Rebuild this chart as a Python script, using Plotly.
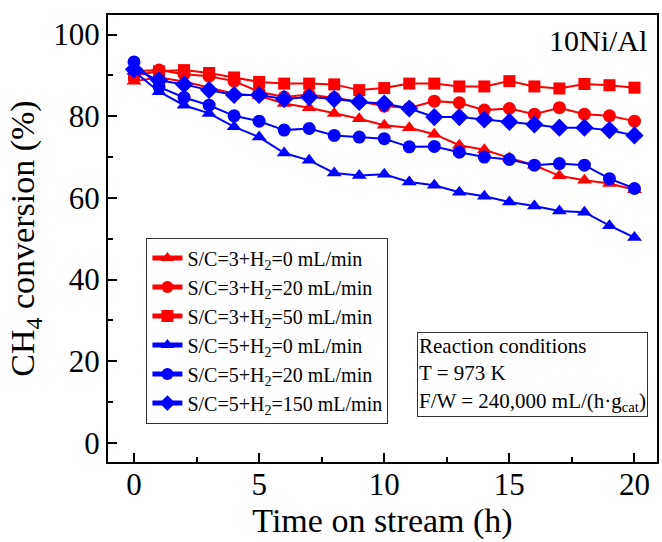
import plotly.graph_objects as go

time_h = list(range(21))

sc3_h0 = [88.6, 89.5, 88.5, 87.0, 85.5, 85.0, 83.1, 82.1, 80.7, 79.4, 77.8, 77.2, 75.6, 72.9, 71.8, 69.8, 68.0, 65.4, 64.3, 63.5, 62.0]
sc3_h20 = [91.0, 91.3, 90.3, 89.8, 88.6, 86.0, 84.7, 85.3, 84.5, 83.6, 82.5, 82.0, 83.7, 83.3, 81.5, 81.9, 80.5, 82.1, 80.5, 80.1, 78.8]
sc3_h50 = [90.0, 91.0, 91.3, 90.6, 89.5, 88.4, 88.0, 88.0, 87.8, 86.4, 86.9, 88.0, 88.0, 87.3, 87.3, 88.6, 87.3, 86.8, 87.9, 87.6, 87.0]
sc5_h0 = [91.0, 86.0, 82.7, 80.7, 77.4, 74.9, 71.0, 69.2, 66.1, 65.5, 65.8, 63.9, 63.1, 61.4, 60.4, 59.0, 58.0, 56.8, 56.5, 53.2, 50.3]
sc5_h20 = [93.3, 87.2, 84.6, 82.7, 80.1, 78.8, 76.6, 77.0, 75.3, 74.9, 74.5, 72.5, 72.6, 71.2, 70.0, 69.4, 68.0, 68.4, 68.0, 64.7, 62.3]
sc5_h150 = [91.5, 88.8, 87.8, 86.4, 85.2, 85.2, 84.2, 84.7, 84.2, 83.5, 83.1, 81.9, 79.8, 79.8, 79.2, 78.6, 78.0, 77.2, 77.2, 76.6, 75.3]

series_names = [
    "S/C=3+H<sub>2</sub>=0 mL/min",
    "S/C=3+H<sub>2</sub>=20 mL/min",
    "S/C=3+H<sub>2</sub>=50 mL/min",
    "S/C=5+H<sub>2</sub>=0 mL/min",
    "S/C=5+H<sub>2</sub>=20 mL/min",
    "S/C=5+H<sub>2</sub>=150 mL/min",
]
series_values = [sc3_h0, sc3_h20, sc3_h50, sc5_h0, sc5_h20, sc5_h150]
series_colors = ["#ff0000", "#ff0000", "#ff0000", "#0000ff", "#0000ff", "#0000ff"]
series_symbols = ["triangle-up", "circle", "square", "triangle-up", "circle", "diamond"]
series_sizes = [13, 13, 12, 13, 13, 14]

FONT = "Liberation Serif, Times New Roman, serif"

fig = go.Figure()
for name, vals, col, sym, sz in zip(series_names, series_values, series_colors, series_symbols, series_sizes):
    fig.add_trace(go.Scatter(
        x=time_h, y=vals, name=name, mode="lines+markers",
        line=dict(color=col, width=2),
        marker=dict(symbol=sym, size=sz, color=col, line=dict(width=0)),
    ))

fig.update_layout(
    width=662, height=542,
    margin=dict(l=108, r=3, t=15, b=80),
    paper_bgcolor="white", plot_bgcolor="white",
    font=dict(family=FONT, color="black", size=26),
    showlegend=True,
    legend=dict(
        x=0.07, y=0.294, xanchor="left", yanchor="middle",
        bgcolor="white", bordercolor="#333333", borderwidth=1,
        font=dict(family=FONT, size=20, color="black"),
        tracegroupgap=0, itemsizing="constant",
    ),
    xaxis=dict(
        range=[-1.04, 20.9], tickvals=[0, 5, 10, 15, 20],
        ticks="inside", ticklen=9, tickwidth=2, tickcolor="black",
        minor=dict(tickvals=[2.5, 7.5, 12.5, 17.5], ticks="inside", ticklen=5, tickwidth=2, tickcolor="black"),
        showline=True, linecolor="black", linewidth=2, mirror=True,
        showgrid=False, zeroline=False,
        tickfont=dict(family=FONT, size=31),
        ticklabelstandoff=-6,
        title=dict(text="Time on stream (h)", font=dict(family=FONT, size=34), standoff=4),
    ),
    yaxis=dict(
        range=[-4.7, 104.8], tickvals=[0, 20, 40, 60, 80, 100],
        ticks="inside", ticklen=9, tickwidth=2, tickcolor="black",
        minor=dict(tickvals=[10, 30, 50, 70, 90], ticks="inside", ticklen=5, tickwidth=2, tickcolor="black"),
        showline=True, linecolor="black", linewidth=2, mirror=True,
        showgrid=False, zeroline=False,
        tickfont=dict(family=FONT, size=31),
        title=dict(text="CH<sub>4</sub> conversion (%)", font=dict(family=FONT, size=34), standoff=8),
    ),
)

fig.add_annotation(
    x=0.985, y=0.985, xref="paper", yref="paper", xanchor="right", yanchor="top",
    text="10Ni/Al", showarrow=False, font=dict(family=FONT, size=30, color="black"),
)

fig.add_annotation(
    x=0.563, y=0.1, xref="paper", yref="paper", xanchor="left", yanchor="bottom",
    text="Reaction conditions<br>T = 973 K<br>F/W = 240,000 mL/(h·g<sub>cat</sub>)",
    showarrow=False, align="left",
    font=dict(family=FONT, size=21, color="black"),
    bgcolor="white", bordercolor="#333333", borderwidth=1, borderpad=1,
)

fig.write_html("out.html")
